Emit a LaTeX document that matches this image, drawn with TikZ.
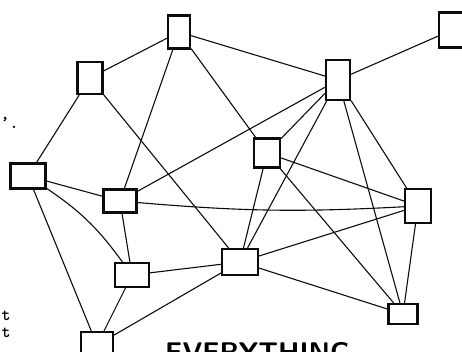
\documentclass[tikz,border=0pt]{standalone}
\usepackage{tikz}
\usetikzlibrary{positioning}
\definecolor{ink}{RGB}{12,12,12}
\tikzset{
  sq/.style={draw=ink, line width=2.2pt, inner sep=0pt},
  link/.style={draw=ink, line width=1.1pt},
  scrap/.style={font=\fontsize{17}{17}\selectfont\ttfamily\bfseries, anchor=base, inner sep=0pt}
}
\begin{document}
\begin{tikzpicture}[x=1pt,y=-1pt]
\useasboundingbox (0,0) rectangle (462,352);
\clip (0,0) rectangle (462,352);
% boxes
\node[sq, minimum width=22pt, minimum height=33pt] (top) at (179,32) {};
\node[sq, minimum width=25pt, minimum height=32pt] (upl) at (90,78) {};
\node[sq, minimum width=26pt, minimum height=35pt] (farr) at (452,30) {};
\node[sq, minimum width=24pt, minimum height=40pt] (hub) at (338,80) {};
\node[sq, minimum width=26pt, minimum height=29pt] (mid) at (267,153) {};
\node[sq, minimum width=35pt, minimum height=25pt] (west) at (28,176) {};
\node[sq, minimum width=33pt, minimum height=23pt] (inl) at (120,201) {};
\node[sq, minimum width=34pt, minimum height=24pt] (low) at (132,275) {};
\node[sq, minimum width=36pt, minimum height=26pt] (cen) at (240,262) {};
\node[sq, minimum width=26pt, minimum height=34pt] (east) at (418,206) {};
\node[sq, minimum width=29pt, minimum height=20pt] (corner) at (403,314) {};
\node[sq, minimum width=32pt, minimum height=26pt] (base) at (97,345) {};
% links
\foreach \a/\b in {top/upl, top/hub, top/inl, top/mid, upl/west, upl/cen,
  farr/hub, hub/inl, hub/mid, hub/cen, hub/corner, hub/east,
  mid/east, mid/corner, mid/cen, west/inl, west/base,
  inl/low, low/cen, low/base, cen/base, cen/east, cen/corner, east/corner}
  \draw[link] (\a) -- (\b);
\draw[link] (west) to[bend left=10] (low);
\draw[link] (inl) to[bend right=4] (east);
% cut-off texts
\node[scrap] (comma) at (5,120) {,};
\node[scrap] (dot) at (14,129) {.};
\node[scrap] (tone) at (6,320) {t};
\node[scrap] (ttwo) at (6,337) {t};
\node[font=\fontsize{27}{27}\sffamily\bfseries, anchor=north west, inner sep=0pt] (word) at (165,342) {EVERYTHING};
\end{tikzpicture}
\end{document}
